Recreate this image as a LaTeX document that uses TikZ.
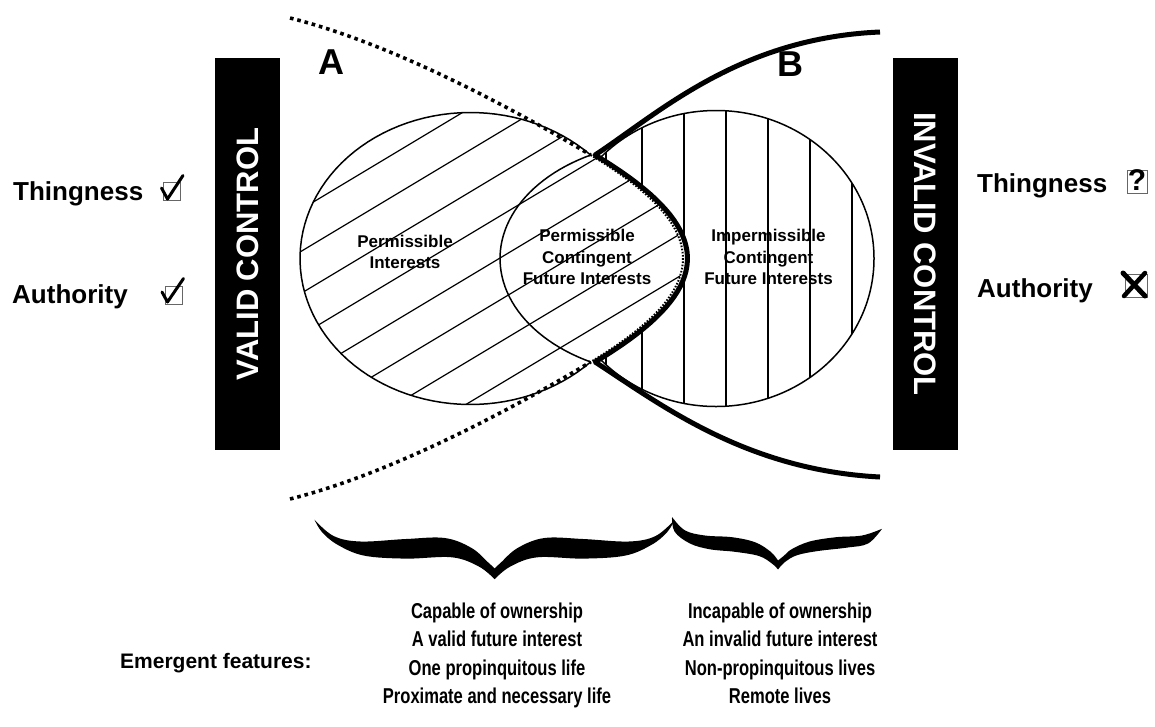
\documentclass[tikz,border=0pt]{standalone}
\usepackage{fontspec}
\setmainfont{Liberation Sans}
\newfontfamily\narrowfont[FakeStretch=0.77]{Liberation Sans}
\begin{document}
\begin{tikzpicture}[x=1pt, y={(0pt,-1pt)}]
\tikzset{
  sidelbl/.style={anchor=base west, inner sep=0pt, font=\fontsize{26}{30}\selectfont\bfseries},
  regionlbl/.style={align=center, inner sep=0pt, font=\fontsize{17}{21.5}\selectfont\bfseries},
  cornerlbl/.style={inner sep=0pt, font=\fontsize{36}{36}\selectfont\bfseries},
  controlbar/.style={fill=black, text=white, inner sep=0pt, minimum width=392pt, minimum height=65pt, font=\fontsize{31}{31}\selectfont\bfseries},
  listtxt/.style={anchor=base, inner sep=0pt, font=\fontsize{21.5}{25}\selectfont\narrowfont\bfseries},
  headtxt/.style={anchor=base west, inner sep=0pt, font=\fontsize{21}{25}\selectfont\bfseries},
  outline/.style={line width=1.5pt},
  hatchline/.style={line width=1.2pt},
  dotline/.style={line width=3.6pt, dash pattern=on 3.6pt off 3.9pt},
  finedots/.style={line width=2pt, dash pattern=on 1.6pt off 1.6pt},
  boundary/.style={line width=5pt, line join=round},
  tickbox/.style={draw=black!60, line width=0.8pt},
  glyph/.style={line width=3pt, line cap=round, line join=round},
}
% page frame
\useasboundingbox (0,0) rectangle (1155,726);
\fill[white] (0,0) rectangle (1155,726);

% junction points where the two boundaries cross
\coordinate (J1) at (590.6,155);
\coordinate (J2) at (590.6,362);
\coordinate (K1) at (595.1,155);
\coordinate (K2) at (595.1,362);

% region outlines as reusable paths
\def\leftregion{plot[domain=45.1:314.9, samples=90] ({470.4+170.4*cos(\x)},{258.5+146*sin(\x)})
  -- plot[domain=-0.55:0.55, samples=40] ({683-596*(cosh(\x)-1)},{258.5+179*sinh(\x)}) -- cycle}
\def\thickpath{(880,32) .. controls (740,38) and (660,112) .. (K1)
  -- plot[domain=-0.55:0.55, samples=40] ({687.5-596*(cosh(\x)-1)},{258.5+179*sinh(\x)})
  -- (K2) .. controls (660,404) and (745,470) .. (880,477)}
\def\rightregion{\thickpath -- (1000,477) -- (1000,32) -- cycle}

% side bars
\node[controlbar, rotate=90] (validbar) at (247.5,254) {VALID CONTROL};
\node[controlbar, rotate=-90] (invalidbar) at (925.5,254) {INVALID CONTROL};

% permissible interests: diagonal hatching
\begin{scope}
  \clip \leftregion;
  \foreach \c in {306,348,...,726}
    \draw[hatchline] (250,{\c-150}) -- (760,{\c-456});
\end{scope}
\draw[outline] plot[domain=45.1:314.9, samples=90] ({470.4+170.4*cos(\x)},{258.5+146*sin(\x)});
\draw[outline] plot[domain=117.8:242.2, samples=50] ({670+170*cos(\x)},{258.5+117*sin(\x)});

% impermissible interests: vertical hatching
\begin{scope}
  \clip \rightregion;
  \begin{scope}
    \clip (716,258.5) circle[x radius=158pt, y radius=148pt];
    \foreach \v in {606,642,684,726,768,810,852}
      \draw[hatchline] (\v,90) -- (\v,430);
  \end{scope}
  \draw[outline] (716,258.5) circle[x radius=158pt, y radius=148pt];
\end{scope}

% boundary A (dotted) and boundary B (solid)
\coordinate (Atop) at (290,18);
\coordinate (Abot) at (290,499);
\draw[dotline] (Atop) .. controls (390,43) and (510.6,107) .. (J1);
\draw[dotline] (Abot) .. controls (390,474) and (510.6,410) .. (J2);
\draw[finedots] plot[domain=-0.55:0.55, samples=50] ({683-596*(cosh(\x)-1)},{258.5+179*sinh(\x)});
\draw[boundary] \thickpath;

% corner letters
\node[cornerlbl] (lblA) at (331,62) {A};
\node[cornerlbl] (lblB) at (790,64) {B};

% region labels
\node[regionlbl] (permint) at (405,252) {Permissible\\Interests};
\node[regionlbl] (pcfi) at (587,257) {Permissible\\Contingent\\Future Interests};
\node[regionlbl] (icfi) at (768.5,257) {Impermissible\\Contingent\\Future Interests};

% criteria on the valid side
\node[sidelbl] (thingL) at (13,200) {Thingness};
\node[sidelbl] (authL) at (12,303) {Authority};
\draw[tickbox] (163,182) rectangle (180,200);
\draw[glyph] (161.5,188) -- (167.5,199) -- (183,175.5);
\draw[tickbox] (165,286) rectangle (182,304);
\draw[glyph] (162,292) -- (167.5,302) -- (183.5,278.5);

% criteria on the invalid side
\node[sidelbl] (thingR) at (977,192) {Thingness};
\node[sidelbl] (authR) at (977,297) {Authority};
\draw[tickbox] (1127,170) rectangle (1147,193);
\node[inner sep=0pt, font=\fontsize{30}{30}\selectfont\bfseries] (qmark) at (1137,180) {?};
\draw[tickbox] (1125,274) rectangle (1147,297);
\draw[line width=5pt, line cap=round] (1123,273) -- (1145,296);
\draw[line width=4.5pt, line cap=round] (1145,273) -- (1124,296);

% braces
\fill plot[smooth, tension=0.6] coordinates {(314.5,519.7) (322,532.1) (337.5,544.7) (364,555.6) (406,558.6) (452,557.3) (479,566.6) (494.6,579.2)}
  -- plot[smooth, tension=0.6] coordinates {(494.6,579.2) (510.2,566.6) (537.2,557.3) (583.2,558.6) (625.2,555.6) (651.7,544.7) (667.2,532.1) (674.7,519.7)}
  -- plot[smooth, tension=0.6] coordinates {(674.7,519.7) (655.6,536) (628.7,541.5) (583.2,539) (544.4,538) (517.6,548) (500.4,563) (494.6,568.4)}
  -- plot[smooth, tension=0.6] coordinates {(494.6,568.4) (488.8,563) (471.6,548) (444.8,538) (406,539) (360.5,541.5) (333.6,536) (314.5,519.7)}
  -- cycle;
\fill plot[smooth, tension=0.6] coordinates {(672,517) (674.6,531.7) (690,543.5) (710,549.3) (735,551.8) (759,556) (772,563.6) (778,569.5)}
  -- plot[smooth, tension=0.6] coordinates {(778,569.5) (785,562) (797,555.2) (818,551) (847,547.6) (868,543.5) (882,528.8)}
  -- plot[smooth, tension=0.6] coordinates {(882,528.8) (862,535.5) (836,537.2) (810,541.4) (792,549) (784,555.7) (778,560.5)}
  -- plot[smooth, tension=0.6] coordinates {(778,560.5) (770.6,551.7) (755,542.2) (732,537.2) (705,535.5) (685,530.4) (672,517)}
  -- cycle;

% emergent features
\node[headtxt] (emerg) at (120,668) {Emergent features:};
\foreach \t [count=\i] in {Capable of ownership, A valid future interest, One propinquitous life, Proximate and necessary life}
  \node[listtxt] (valid\i) at (497,{618+28.6*(\i-1)}) {\t};
\foreach \t [count=\i] in {Incapable of ownership, An invalid future interest, Non-propinquitous lives, Remote lives}
  \node[listtxt] (invalid\i) at (780,{618+28.6*(\i-1)}) {\t};
\end{tikzpicture}
\end{document}
